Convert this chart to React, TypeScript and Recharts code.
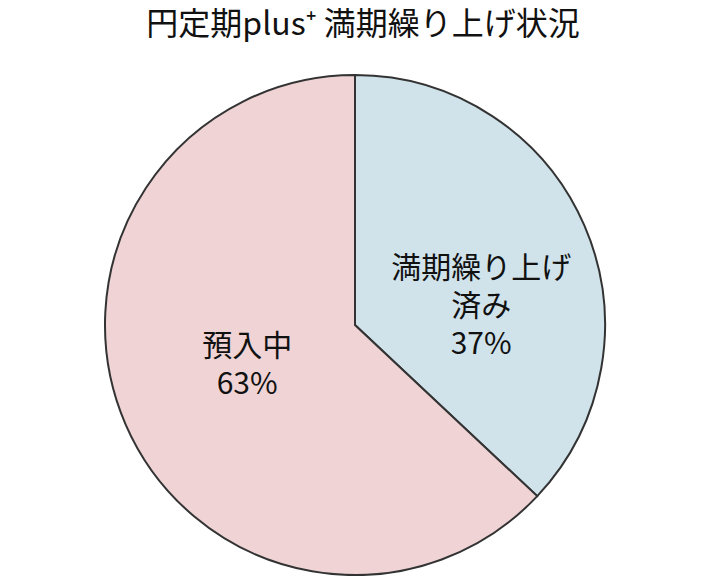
import React from 'react';
import { PieChart, Pie, Cell } from 'recharts';

const title = '円定期plus⁺ 満期繰り上げ状況';
const categories = ['満期繰り上げ\n済み', '預入中'];
const values = [37, 63];
const colors = ['#d0e3eb', '#efd3d5'];

const data = categories.map((name, i) => ({ name, value: values[i] }));

const RAD = Math.PI / 180;
const FONT = '"Noto Sans CJK JP", "Noto Sans", sans-serif';

const renderLabel = (props: any) => {
  const { cx, cy, midAngle, outerRadius, index, payload } = props;
  const fx = index === 0 ? 0.55 : 0.47;
  const fy = index === 0 ? 0.22 : 0.37;
  const s = Math.sin(-midAngle * RAD);
  const x = cx + outerRadius * fx * Math.cos(-midAngle * RAD);
  const y = cy + outerRadius * fy * s;
  const lines = [...String(payload.name).split('\n'), `${payload.value}%`];
  const lh = 38;
  const y0 = y - ((lines.length - 1) * lh) / 2;
  return (
    <text
      x={x}
      y={y0}
      textAnchor="middle"
      dominantBaseline="central"
      fill="#111"
      fontSize={30}
      fontFamily={FONT}
    >
      {lines.map((l, i) => (
        <tspan key={i} x={x} y={y0 + i * lh}>
          {l}
        </tspan>
      ))}
    </text>
  );
};

export default function App() {
  return (
    <div style={{ position: 'absolute', left: 0, top: 0, width: 710, height: 576, background: '#fff', overflow: 'hidden' }}>
      <div
        style={{
          position: 'absolute',
          left: 0,
          width: 710,
          boxSizing: 'border-box',
          paddingLeft: 16,
          top: 5,
          textAlign: 'center',
          fontFamily: FONT,
          fontSize: 32,
          lineHeight: '32px',
          color: '#111',
        }}
      >
        {title}
      </div>
      <PieChart
        width={710}
        height={576}
        margin={{ top: 0, right: 0, bottom: 0, left: 0 }}
        style={{ position: 'absolute', left: 0, top: 0 }}
      >
        <Pie
          data={data}
          dataKey="value"
          nameKey="name"
          cx={355}
          cy={325}
          outerRadius={250}
          startAngle={90}
          endAngle={-270}
          stroke="#333"
          strokeWidth={2}
          label={renderLabel}
          labelLine={false}
          isAnimationActive={false}
        >
          {data.map((d, i) => (
            <Cell key={d.name} fill={colors[i]} />
          ))}
        </Pie>
      </PieChart>
    </div>
  );
}
